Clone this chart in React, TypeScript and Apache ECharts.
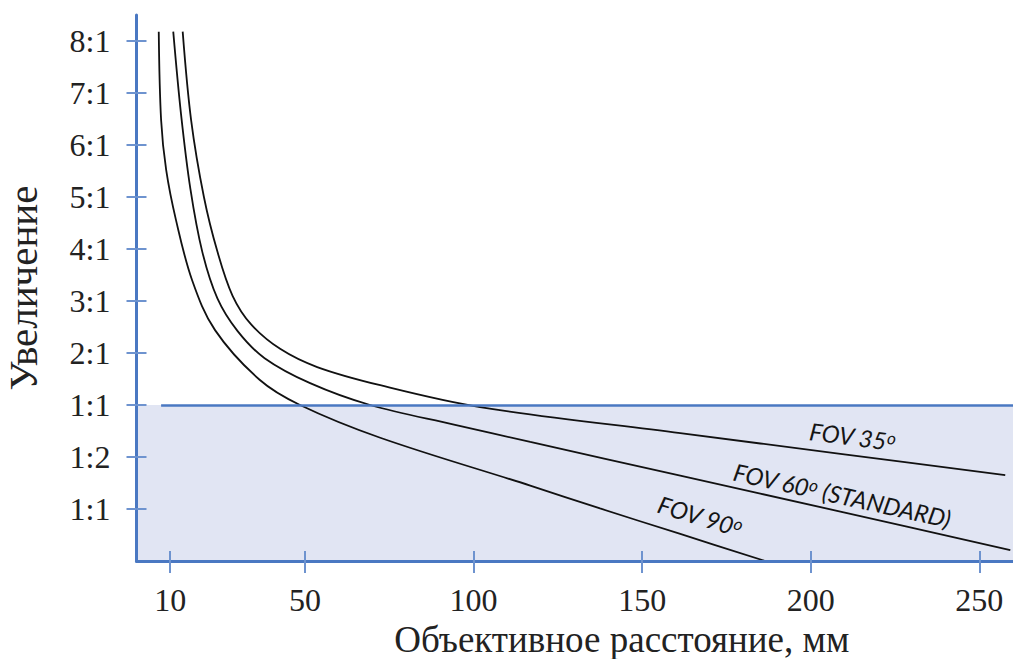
import React, { useEffect, useRef } from "react";
import * as echarts from "echarts";

// Distance (mm) and magnification position (axis units: 1 = "1:1" bottom, 3 = "1:1" line, 10 = "8:1")
const fov90X = [6.6, 7.3, 8.8, 11.7, 16.5, 23.3, 36.6, 48.5, 72.3, 116.8, 137.5, 161.3, 186.5];
const fov90Y = [10.18, 8.48, 7.52, 6.56, 5.4, 4.44, 3.48, 3.0, 2.37, 1.45, 1.01, 0.52, 0.0];

const fov60X = [10.9, 13.2, 16.0, 19.5, 24.0, 30.0, 38.0, 51.5, 69.3, 94.5, 116.8, 161.3, 208.8, 259.2];
const fov60Y = [10.18, 8.6, 7.15, 5.95, 5.05, 4.42, 3.9, 3.42, 3.0, 2.62, 2.29, 1.64, 0.95, 0.21];

const fov35X = [13.7, 16.2, 20.0, 24.0, 28.5, 34.0, 42.6, 53.6, 72.3, 101.9, 161.3, 208.8, 257.7];
const fov35Y = [10.18, 8.48, 7.0, 5.95, 5.1, 4.55, 4.08, 3.73, 3.38, 2.96, 2.46, 2.06, 1.65];

const yTickValues = [1, 2, 3, 4, 5, 6, 7, 8, 9, 10];
const yTickLabels = ["1:1", "1:2", "1:1", "2:1", "3:1", "4:1", "5:1", "6:1", "7:1", "8:1"];
const xTickValues = [10, 50, 100, 150, 200, 250];

const unityLevel = 3;
const unityStartX = 7.3;

const BLUE = "#4a78c2";
const TICK_BLUE = "#6e93cf";
const SHADE = "#e1e5f3";

function zip(xs: number[], ys: number[]) {
  return xs.map((x, i) => [x, ys[i]]);
}

const labelRich = {
  a: { fontSize: 24, fontStyle: "italic", fontFamily: "Lato", color: "#151515" },
  s: { fontSize: 17, fontStyle: "italic", fontFamily: "Lato", color: "#151515", verticalAlign: "top" },
};

function fovLabel(coord: number[], text: string, rotate: number) {
  return {
    symbol: "circle",
    symbolSize: 0,
    silent: true,
    data: [
      {
        coord,
        label: {
          show: true,
          position: "inside",
          rotate,
          formatter: text,
          rich: labelRich,
        },
      },
    ],
  };
}

export default function App() {
  const ref = useRef<HTMLDivElement>(null);
  useEffect(() => {
    if (!ref.current) return;
    const chart = echarts.init(ref.current, null, { renderer: "svg" });
    const xMax = 260;
    const yMax = 10.5;
    const lineStyle = { color: "#111", width: 1.8 };
    const curve = { type: "line", smooth: 0.35, showSymbol: false, lineStyle, z: 3 };
    chart.setOption({
      animation: false,
      grid: { left: 136.5, right: 0, top: 15, bottom: 98, containLabel: false, outerBoundsMode: "none" },
      xAxis: [
        {
          type: "value",
          min: 0,
          max: xMax,
          z: 5,
          splitLine: { show: false },
          axisLine: { show: true, lineStyle: { color: BLUE, width: 3 } },
          axisTick: { show: true, customValues: xTickValues, length: 12, lineStyle: { color: TICK_BLUE, width: 2 } },
          axisLabel: {
            customValues: xTickValues,
            margin: 23,
            fontFamily: "Liberation Serif",
            fontSize: 32,
            color: "#222",
          },
          name: "Объективное расстояние, мм",
          nameLocation: "middle",
          nameGap: 56,
          nameTextStyle: { fontFamily: "Liberation Serif", fontSize: 37, color: "#222", padding: [0, 0, 0, 94] },
        },
        {
          type: "value",
          min: 0,
          max: xMax,
          position: "bottom",
          z: 5,
          splitLine: { show: false },
          axisLine: { show: false },
          axisTick: { show: true, inside: true, customValues: xTickValues, length: 10, lineStyle: { color: TICK_BLUE, width: 2 } },
          axisLabel: { show: false },
        },
      ],
      yAxis: [
        {
          type: "value",
          min: 0,
          max: yMax,
          z: 5,
          splitLine: { show: false },
          axisLine: { show: true, lineStyle: { color: BLUE, width: 3 } },
          axisTick: { show: true, customValues: yTickValues, length: 10, lineStyle: { color: TICK_BLUE, width: 2 } },
          axisLabel: {
            customValues: yTickValues,
            margin: 26,
            fontFamily: "Liberation Serif",
            fontSize: 32,
            color: "#222",
            formatter: (v: number) => yTickLabels[yTickValues.indexOf(Math.round(v))] ?? "",
          },
          name: "Увеличение",
          nameLocation: "middle",
          nameRotate: 90,
          nameGap: 93,
          nameTextStyle: { fontFamily: "Liberation Serif", fontSize: 41, color: "#222" },
        },
        {
          type: "value",
          min: 0,
          max: yMax,
          position: "left",
          z: 5,
          splitLine: { show: false },
          axisLine: { show: false },
          axisTick: { show: true, inside: true, customValues: yTickValues, length: 10, lineStyle: { color: TICK_BLUE, width: 2 } },
          axisLabel: { show: false },
        },
      ],
      series: [
        {
          type: "line",
          data: [],
          z: 1,
          silent: true,
          markArea: {
            silent: true,
            itemStyle: { color: SHADE },
            data: [[{ coord: [0, 0] }, { coord: [xMax, unityLevel] }]],
          },
          markLine: {
            silent: true,
            symbol: ["none", "none"],
            label: { show: false },
            lineStyle: { color: BLUE, width: 2.5, type: "solid" },
            data: [[{ coord: [unityStartX, unityLevel] }, { coord: [xMax, unityLevel] }]],
          },
        },
        {
          ...curve,
          name: "FOV 90",
          data: zip(fov90X, fov90Y),
          markPoint: fovLabel([167.2, 0.87], "{a|FOV 90}{s|o}", -17),
        },
        {
          ...curve,
          name: "FOV 60",
          data: zip(fov60X, fov60Y),
          markPoint: fovLabel([209.3, 1.27], "{a|FOV 60}{s|o}{a| (STANDARD)}", -12.5),
        },
        {
          ...curve,
          name: "FOV 35",
          data: zip(fov35X, fov35Y),
          markPoint: fovLabel([212.4, 2.4], "{a|FOV 35}{s|o}", -7.5),
        },
      ],
    });
    return () => chart.dispose();
  }, []);
  return (
    <div
      ref={ref}
      style={{ position: "fixed", left: 0, top: 0, width: 1013, height: 659, background: "#fff" }}
    />
  );
}
